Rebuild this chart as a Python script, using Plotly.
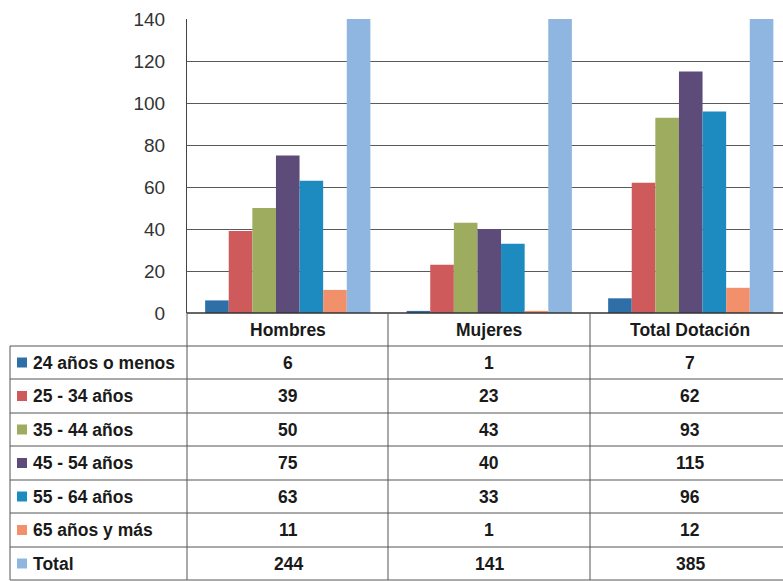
import plotly.graph_objects as go

categories = ["Hombres", "Mujeres", "Total Dotación"]
series_names = ["24 años o menos", "25 - 34 años", "35 - 44 años", "45 - 54 años",
                "55 - 64 años", "65 años y más", "Total"]
hombres = [6, 39, 50, 75, 63, 11, 244]
mujeres = [1, 23, 43, 40, 33, 1, 141]
total_dotacion = [7, 62, 93, 115, 96, 12, 385]
colors = ["#2f6fa8", "#cf5a5c", "#9dac5e", "#5d4c7a", "#1d8bbf", "#f2906b", "#8fb6e0"]
y_ticks = [0, 20, 40, 60, 80, 100, 120, 140]

W, H = 783, 581
FONT = "Liberation Sans Narrow, Arial Narrow, Liberation Sans, Arial, sans-serif"

def px(x):
    return x / W

def py(y):
    return 1 - y / H

# plot area in pixels
PL, PR, PT, PB = 187, 783, 19, 313
cat_w = 201.5

fig = go.Figure()
cols = [hombres, mujeres, total_dotacion]
for i, name in enumerate(series_names):
    fig.add_trace(go.Bar(
        x=list(range(len(categories))),
        y=[c[i] for c in cols],
        name=name,
        marker=dict(color=colors[i], line=dict(width=0)),
        showlegend=False,
    ))

fig.update_layout(
    width=W, height=H,
    margin=dict(l=0, r=0, t=0, b=0, pad=0, autoexpand=False),
    paper_bgcolor="white", plot_bgcolor="white",
    barmode="group", bargap=0.18, bargroupgap=0,
    font=dict(family=FONT, color="#222"),
    xaxis=dict(domain=[px(PL), 1], range=[-0.5, -0.5 + (PR - PL) / cat_w],
               showticklabels=False, showgrid=False, zeroline=False,
               showline=False, fixedrange=True, automargin=False),
    yaxis=dict(domain=[py(PB), py(PT)], range=[0, 140], tickvals=y_ticks,
               showgrid=True, gridcolor="#5a5a5a", gridwidth=1,
               showline=True, linecolor="#444", linewidth=1, automargin=False,
               zeroline=False, ticks="", ticklabelstandoff=17,
               tickfont=dict(size=19, color="#333", family=FONT)),
)

shapes = []
line = dict(color="#555", width=1)
# row lines
row_tops = [313, 346, 379, 413, 446, 480, 513, 547, 580]
shapes.append(dict(type="line", xref="paper", yref="paper", x0=px(PL), x1=1,
                   y0=py(313), y1=py(313), line=dict(color="#333", width=1.5)))
for ry in row_tops[1:]:
    shapes.append(dict(type="line", xref="paper", yref="paper", x0=px(10), x1=1,
                       y0=py(ry), y1=py(ry), line=line))
# vertical lines
shapes.append(dict(type="line", xref="paper", yref="paper", x0=px(10), x1=px(10),
                   y0=py(346), y1=py(580), line=line))
col_edges = [187, 388, 590]
for cx in col_edges:
    shapes.append(dict(type="line", xref="paper", yref="paper", x0=px(cx), x1=px(cx),
                       y0=py(313), y1=py(580), line=line))

annotations = []
col_centers = [288, 489, 690]
for j, cat in enumerate(categories):
    annotations.append(dict(text="<b>%s</b>" % cat, x=px(col_centers[j]), y=py(330),
                            xref="paper", yref="paper", showarrow=False,
                            xanchor="center", yanchor="middle",
                            font=dict(size=17.5, color="#1a1a1a", family=FONT)))
for i, name in enumerate(series_names):
    yc = (row_tops[i + 1] + row_tops[i + 2]) / 2
    shapes.append(dict(type="rect", xref="paper", yref="paper",
                       x0=px(17), x1=px(27), y0=py(yc - 5), y1=py(yc + 5),
                       fillcolor=colors[i], line=dict(width=0)))
    annotations.append(dict(text="<b>%s</b>" % name, x=px(31), y=py(yc),
                            xref="paper", yref="paper", showarrow=False,
                            xanchor="left", yanchor="middle",
                            font=dict(size=17.5, color="#1a1a1a", family=FONT)))
    for j in range(3):
        annotations.append(dict(text="<b>%d</b>" % cols[j][i], x=px(col_centers[j]), y=py(yc),
                                xref="paper", yref="paper", showarrow=False,
                                xanchor="center", yanchor="middle",
                                font=dict(size=17.5, color="#1a1a1a", family=FONT)))

fig.update_layout(shapes=shapes, annotations=annotations)
fig.write_html("out.html")
